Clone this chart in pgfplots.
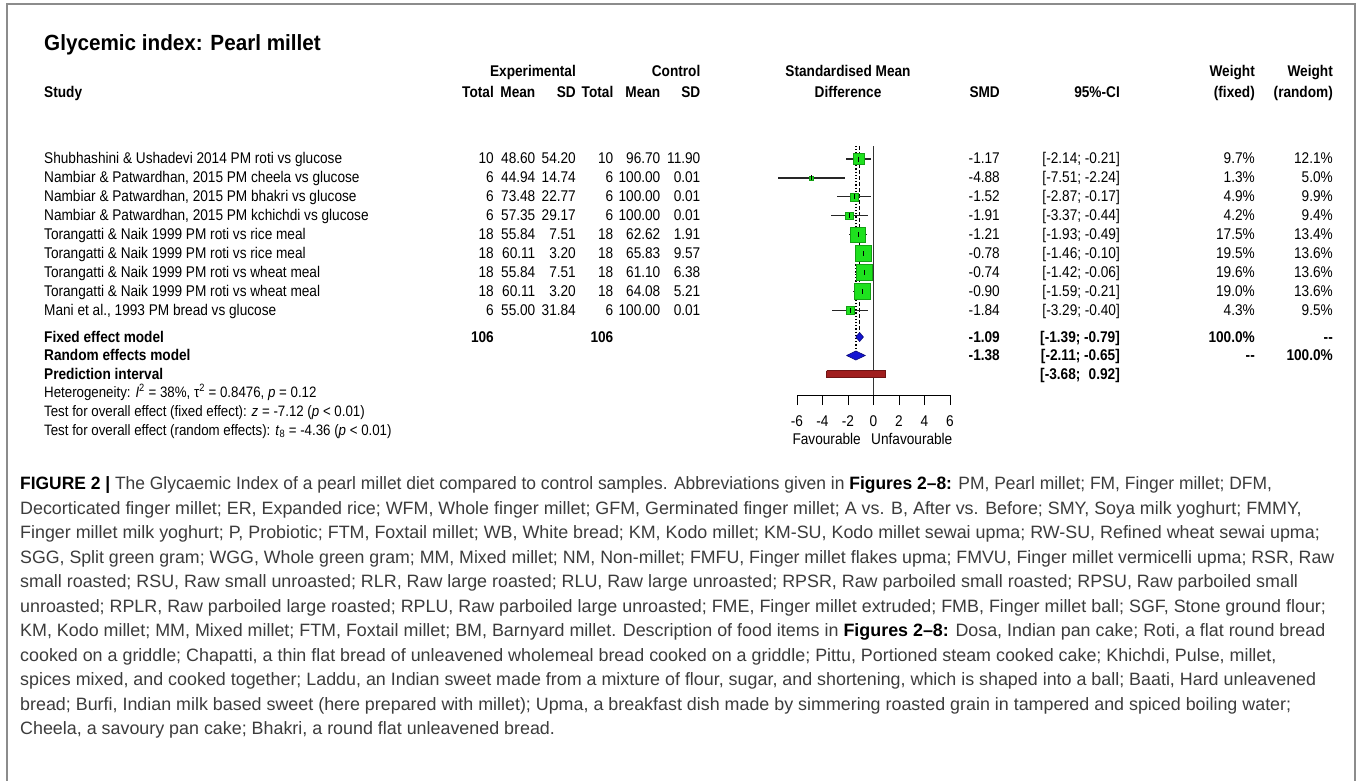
\documentclass[border=0pt]{standalone}
\usepackage{fontspec}
\setmainfont{Liberation Sans}
\newfontfamily\ff[FakeStretch=0.88]{Liberation Sans}
\newfontfamily\tf[FakeStretch=0.94]{Liberation Sans}
\usepackage{pgfplots}
\pgfplotsset{compat=1.18}
\usepackage{pgfplotstable}

\definecolor{sqfill}{RGB}{30,225,30}
\definecolor{sqedge}{RGB}{20,160,20}
\definecolor{dmfill}{RGB}{20,20,210}
\definecolor{dmedge}{RGB}{10,10,120}
\definecolor{prfill}{RGB}{160,30,30}
\definecolor{predge}{RGB}{110,20,20}
\definecolor{capc}{RGB}{60,60,60}
\definecolor{framec}{RGB}{140,140,140}

\newcommand\fr{\ff\fontsize{15.5}{18}\selectfont}
\newcommand\fh{\ff\fontsize{15.1}{18}\selectfont}
\newcommand\fcap{\fontsize{17.88}{25}\selectfont}
\newcommand\ftit{\tf\fontsize{22}{26}\selectfont\bfseries}

\pgfplotstableread{
est lo hi w y
-1.17 -2.14 -0.21 9.7 -159.0
-4.88 -7.51 -2.24 1.3 -177.9
-1.52 -2.87 -0.17 4.9 -196.8
-1.91 -3.37 -0.44 4.2 -215.7
-1.21 -1.93 -0.49 17.5 -234.6
-0.78 -1.46 -0.10 19.5 -253.5
-0.74 -1.42 -0.06 19.6 -272.4
-0.90 -1.59 -0.21 19.0 -291.3
-1.84 -3.29 -0.40 4.3 -310.2
}\studies

\begin{document}
\begin{tikzpicture}[x=1pt,y=-1pt]
\useasboundingbox (0,0) rectangle (1357,781);
\fill[white] (0,0) rectangle (1357,781);
\draw[framec, line width=1.5pt] (7,781) -- (7,4) -- (1355,4) -- (1355,781);

% title
\node[anchor=base west, inner sep=0, font=\ftit] at (44,51) {Glycemic index: Pearl millet};

% headers
\begin{scope}[every node/.style={inner sep=0, font=\fr\bfseries}]
\node[anchor=base east] at (576,77) {Experimental};
\node[anchor=base east] at (700.5,77) {Control};
\node[anchor=base] at (848,77) {Standardised Mean};
\node[anchor=base east] at (1255,77) {Weight};
\node[anchor=base east] at (1333,77) {Weight};
\node[anchor=base west] at (44,98) {Study};
\node[anchor=base east] at (494,98) {Total};
\node[anchor=base east] at (535.5,98) {Mean};
\node[anchor=base east] at (576,98) {SD};
\node[anchor=base east] at (613.5,98) {Total};
\node[anchor=base east] at (660.5,98) {Mean};
\node[anchor=base east] at (700.5,98) {SD};
\node[anchor=base] at (848,98) {Difference};
\node[anchor=base east] at (1000,98) {SMD};
\node[anchor=base east] at (1120,98) {95\%-CI};
\node[anchor=base east] at (1255,98) {(fixed)};
\node[anchor=base east] at (1333,98) {(random)};
\end{scope}

% study rows
\foreach \yc/\lab/\nE/\mE/\sE/\nC/\mC/\sC/\smd/\ci/\wf/\wr in {
159.0/{Shubhashini \& Ushadevi 2014 PM roti vs glucose}/10/48.60/54.20/10/96.70/11.90/-1.17/{[-2.14; -0.21]}/9.7\%/12.1\%,
177.9/{Nambiar \& Patwardhan, 2015 PM cheela vs glucose}/6/44.94/14.74/6/100.00/0.01/-4.88/{[-7.51; -2.24]}/1.3\%/5.0\%,
196.8/{Nambiar \& Patwardhan, 2015 PM bhakri vs glucose}/6/73.48/22.77/6/100.00/0.01/-1.52/{[-2.87; -0.17]}/4.9\%/9.9\%,
215.7/{Nambiar \& Patwardhan, 2015 PM kchichdi vs glucose}/6/57.35/29.17/6/100.00/0.01/-1.91/{[-3.37; -0.44]}/4.2\%/9.4\%,
234.6/{Torangatti \& Naik 1999 PM roti vs rice meal}/18/55.84/7.51/18/62.62/1.91/-1.21/{[-1.93; -0.49]}/17.5\%/13.4\%,
253.5/{Torangatti \& Naik 1999 PM roti vs rice meal}/18/60.11/3.20/18/65.83/9.57/-0.78/{[-1.46; -0.10]}/19.5\%/13.6\%,
272.4/{Torangatti \& Naik 1999 PM roti vs wheat meal}/18/55.84/7.51/18/61.10/6.38/-0.74/{[-1.42; -0.06]}/19.6\%/13.6\%,
291.3/{Torangatti \& Naik 1999 PM roti vs wheat meal}/18/60.11/3.20/18/64.08/5.21/-0.90/{[-1.59; -0.21]}/19.0\%/13.6\%,
310.2/{Mani et al., 1993 PM bread vs glucose}/6/55.00/31.84/6/100.00/0.01/-1.84/{[-3.29; -0.40]}/4.3\%/9.5\%}
{
\begin{scope}[every node/.style={inner sep=0, font=\fr}]
\node[anchor=base west] at (44,\yc+5) {\lab};
\node[anchor=base east] at (494,\yc+5) {\nE};
\node[anchor=base east] at (535.5,\yc+5) {\mE};
\node[anchor=base east] at (576,\yc+5) {\sE};
\node[anchor=base east] at (613.5,\yc+5) {\nC};
\node[anchor=base east] at (660.5,\yc+5) {\mC};
\node[anchor=base east] at (700.5,\yc+5) {\sC};
\node[anchor=base east] at (1000,\yc+5) {\smd};
\node[anchor=base east] at (1120,\yc+5) {\ci};
\node[anchor=base east] at (1255,\yc+5) {\wf};
\node[anchor=base east] at (1333,\yc+5) {\wr};
\end{scope}
}

% summary rows
\begin{scope}[every node/.style={inner sep=0, font=\fr\bfseries}]
\node[anchor=base west] at (44,342) {Fixed effect model};
\node[anchor=base east] at (494,342) {106};
\node[anchor=base east] at (613.5,342) {106};
\node[anchor=base east] at (1000,342) {-1.09};
\node[anchor=base east] at (1120,342) {[-1.39; -0.79]};
\node[anchor=base east] at (1255,342) {100.0\%};
\node[anchor=base east] at (1333,342) {-{}-};
\node[anchor=base west] at (44,360.5) {Random effects model};
\node[anchor=base east] at (1000,360.5) {-1.38};
\node[anchor=base east] at (1120,360.5) {[-2.11; -0.65]};
\node[anchor=base east] at (1255,360.5) {-{}-};
\node[anchor=base east] at (1333,360.5) {100.0\%};
\node[anchor=base west] at (44,379) {Prediction interval};
\node[anchor=base east] at (1120,379) {[-3.68; \hphantom{-}0.92]};
\end{scope}

% heterogeneity
\begin{scope}[every node/.style={inner sep=0, font=\fh, anchor=base west}]
\node at (44,397) {Heterogeneity: \textit{I}\textsuperscript{2} = 38\%, τ\textsuperscript{2} = 0.8476, \textit{p} = 0.12};
\node at (44,416) {Test for overall effect (fixed effect): \textit{z} = -7.12 (\textit{p} < 0.01)};
\node at (44,435) {Test for overall effect (random effects): \textit{t}\textsubscript{8} = -4.36 (\textit{p} < 0.01)};
\end{scope}

% favourable labels
\node[anchor=base east, inner sep=0, font=\fr] at (861,444) {Favourable};
\node[anchor=base west, inner sep=0, font=\fr] at (871,444) {Unfavourable};

% caption
\begin{scope}[every node/.style={inner sep=0, font=\fcap, anchor=base west, text=capc}]
\node at (20,489.9) {\scalebox{0.974}[1]{\textbf{\color{black}FIGURE 2 |} The Glycaemic Index of a pearl millet diet compared to control samples. Abbreviations given in \textbf{\color{black}Figures 2–8:} PM, Pearl millet; FM, Finger millet; DFM,}};
\node at (20,514.4) {Decorticated finger millet; ER, Expanded rice; WFM, Whole finger millet; GFM, Germinated finger millet; A vs. B, After vs. Before; SMY, Soya milk yoghurt; FMMY,};
\node at (20,538.9) {Finger millet milk yoghurt; P, Probiotic; FTM, Foxtail millet; WB, White bread; KM, Kodo millet; KM-SU, Kodo millet sewai upma; RW-SU, Refined wheat sewai upma;};
\node at (20,563.4) {\scalebox{0.993}[1]{SGG, Split green gram; WGG, Whole green gram; MM, Mixed millet; NM, Non-millet; FMFU, Finger millet flakes upma; FMVU, Finger millet vermicelli upma; RSR, Raw}};
\node at (20,587.9) {small roasted; RSU, Raw small unroasted; RLR, Raw large roasted; RLU, Raw large unroasted; RPSR, Raw parboiled small roasted; RPSU, Raw parboiled small};
\node at (20,612.4) {unroasted; RPLR, Raw parboiled large roasted; RPLU, Raw parboiled large unroasted; FME, Finger millet extruded; FMB, Finger millet ball; SGF, Stone ground flour;};
\node at (20,636.9) {KM, Kodo millet; MM, Mixed millet; FTM, Foxtail millet; BM, Barnyard millet. Description of food items in \textbf{\color{black}Figures 2–8:} Dosa, Indian pan cake; Roti, a flat round bread};
\node at (20,661.4) {cooked on a griddle; Chapatti, a thin flat bread of unleavened wholemeal bread cooked on a griddle; Pittu, Portioned steam cooked cake; Khichdi, Pulse, millet,};
\node at (20,685.9) {spices mixed, and cooked together; Laddu, an Indian sweet made from a mixture of flour, sugar, and shortening, which is shaped into a ball; Baati, Hard unleavened};
\node at (20,710.4) {bread; Burfi, Indian milk based sweet (here prepared with millet); Upma, a breakfast dish made by simmering roasted grain in tampered and spiced boiling water;};
\node at (20,734.9) {Cheela, a savoury pan cake; Bhakri, a round flat unleavened bread.};
\end{scope}

\begin{axis}[
  at={(797pt,-395pt)}, anchor=south west,
  scale only axis, width=153pt, height=249pt,
  xmin=-6, xmax=6, ymin=-395, ymax=-146,
  clip=false,
  axis x line*=bottom, axis y line=none,
  x axis line style={black, line width=1pt},
  xtick={-6,-4,-2,0,2,4,6},
  xticklabels={-6,-4,-2,0,2,4,6},
  ytick=\empty,
  tick align=outside,
  major tick length=10pt,
  xtick style={black, line width=1pt},
  xticklabel style={font=\fr, anchor=base, inner sep=0pt, yshift=-21pt},
]
\addplot[black!80, line width=1pt] coordinates {(0,-146) (0,-395)};
\addplot[black, line width=1pt, dash pattern=on 3.5pt off 2.5pt] coordinates {(-1.09,-146) (-1.09,-332.5)};
\addplot[black, line width=1.2pt, dash pattern=on 1.2pt off 2pt] coordinates {(-1.38,-146) (-1.38,-351)};
\addplot[scatter, only marks, mark=square*,
  scatter/use mapped color={draw=sqedge, fill=sqfill},
  mark options={line width=0.5pt},
  visualization depends on={16*sqrt(\thisrow{w}/19.6)/2 \as \ms},
  scatter/@pre marker code/.append style={/tikz/mark size=\ms pt}]
  table[x=est,y=y] {\studies};
\addplot[only marks, mark=|, mark size=2.5pt, mark options={black, line width=0.9pt},
  error bars/.cd, x dir=both, x explicit, error mark=none,
  error bar style={line width=1.2pt, black!85}]
  table[x=est, y=y, x error plus expr=\thisrow{hi}-\thisrow{est}, x error minus expr=\thisrow{est}-\thisrow{lo}] {\studies};
\addplot[fill=dmfill, draw=dmedge, line width=0.6pt] coordinates {(-1.39,-337) (-1.09,-332.5) (-0.79,-337) (-1.09,-341.5) (-1.39,-337)};
\addplot[fill=dmfill, draw=dmedge, line width=0.6pt] coordinates {(-2.11,-355.5) (-1.38,-351) (-0.65,-355.5) (-1.38,-360) (-2.11,-355.5)};
\addplot[fill=prfill, draw=predge, line width=0.6pt] coordinates {(-3.68,-370.5) (0.92,-370.5) (0.92,-377.5) (-3.68,-377.5) (-3.68,-370.5)};
\end{axis}
\end{tikzpicture}
\end{document}
